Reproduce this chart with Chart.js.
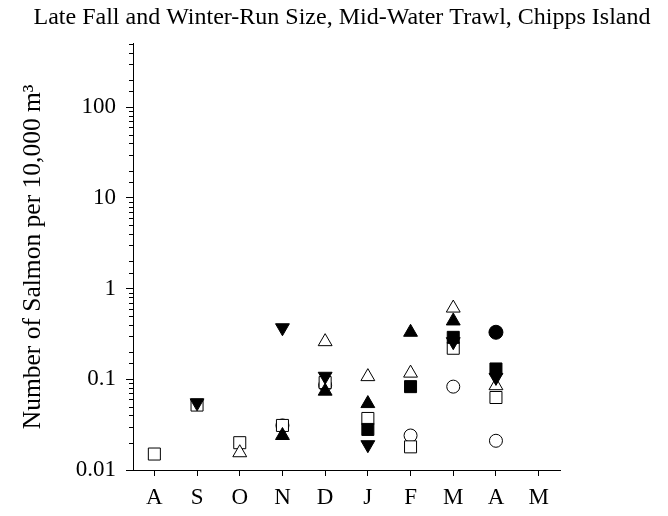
<!DOCTYPE html>
<html>
<head>
<meta charset="utf-8">
<script src="https://cdn.jsdelivr.net/npm/chart.js@4/dist/chart.umd.min.js"></script>
<style>
html,body{margin:0;padding:0;background:#fff;}
#wrap{width:668px;height:516px;}
</style>
</head>
<body>
<div id="wrap"><canvas id="c" width="668" height="516"></canvas></div>
<script>
const months = ['A','S','O','N','D','J','F','M','A','M'];
const openSquare    = [0.015, 0.052, 0.020, 0.031, 0.092, 0.037, 0.018, 0.22, 0.063, null];
const filledTriDown = [null, 0.055, null, 0.37, 0.108, 0.019, null, 0.26, 0.105, null];
const openTriUp     = [null, null, 0.0155, null, 0.26, 0.107, 0.117, 0.61, 0.085, null];
const filledTriUp   = [null, null, null, 0.024, 0.074, 0.054, 0.33, 0.44, null, null];
const filledSquare  = [null, null, null, null, null, 0.028, 0.083, 0.29, 0.13, null];
const openCircle    = [null, null, null, 0.031, 0.086, null, 0.024, 0.083, 0.021, null];
const filledCircle  = [null, null, null, null, null, null, null, null, 0.33, null];

const yTickValues = [0.01, 0.1, 1, 10, 100];
const yTickLabels = ['0.01', '0.1', '1', '10', '100'];

const SERIF = '"Liberation Serif", "Times New Roman", serif';

function isMajorVal(v) {
  return yTickValues.some(t => Math.abs(v - t) / t < 1e-6);
}

function ds(data, style, fill, radius, rotation) {
  return {
    data: data,
    showLine: false,
    pointStyle: style,
    pointRadius: radius,
    pointHoverRadius: radius,
    pointRotation: rotation || 0,
    pointBackgroundColor: fill,
    pointBorderColor: '#000',
    pointBorderWidth: 1,
    borderColor: '#000',
    backgroundColor: fill
  };
}

const minorTicks = {
  id: 'minorTicks',
  afterDatasetsDraw(chart) {
    const s = chart.scales.y;
    const ctx = chart.ctx;
    ctx.save();
    ctx.strokeStyle = '#000';
    ctx.lineWidth = 1;
    s.ticks.forEach((t, i) => {
      if (isMajorVal(t.value)) return;
      const y = Math.round(s.getPixelForTick(i)) + 0.5;
      ctx.beginPath();
      ctx.moveTo(s.right - 4, y);
      ctx.lineTo(s.right, y);
      ctx.stroke();
    });
    ctx.restore();
  }
};

new Chart(document.getElementById('c'), {
  type: 'line',
  data: {
    labels: months,
    datasets: [
      ds(filledCircle, 'circle', '#000', 7),
      ds(filledTriDown, 'triangle', '#000', 8, 180),
      ds(filledSquare, 'rect', '#000', 8.5),
      ds(filledTriUp, 'triangle', '#000', 8),
      ds(openTriUp, 'triangle', '#fff', 8),
      ds(openSquare, 'rect', '#fff', 8.5),
      ds(openCircle, 'circle', '#fff', 6.5)
    ]
  },
  options: {
    responsive: false,
    animation: false,
    devicePixelRatio: 1,
    layout: { padding: { left: 16, right: 0, top: 0, bottom: 0 } },
    plugins: {
      legend: { display: false },
      tooltip: { enabled: false },
      title: {
        display: true,
        text: 'Late Fall and Winter-Run Size, Mid-Water Trawl, Chipps Island',
        color: '#000',
        font: { family: SERIF, size: 24, weight: 'normal' },
        padding: { top: 3, bottom: 12 }
      }
    },
    scales: {
      x: {
        type: 'category',
        offset: true,
        grid: { display: true, drawOnChartArea: false, offset: false, tickLength: 6, color: '#000', tickColor: '#000' },
        border: { display: true, color: '#000', width: 1 },
        ticks: { color: '#000', font: { family: SERIF, size: 23 }, padding: 8, autoSkip: false, maxRotation: 0 },
        afterFit(s) { s.height = 46; }
      },
      y: {
        type: 'logarithmic',
        min: 0.01,
        max: 500,
        grid: {
          display: true, drawOnChartArea: false, tickLength: 7,
          color: '#000',
          tickColor: ctx => (ctx.tick && isMajorVal(ctx.tick.value)) ? '#000' : 'rgba(0,0,0,0)'
        },
        border: { display: true, color: '#000', width: 1 },
        ticks: {
          color: '#000',
          font: { family: SERIF, size: 23 },
          padding: 10,
          autoSkip: false,
          callback: function (v) {
            const i = yTickValues.findIndex(t => Math.abs(v - t) / t < 1e-6);
            return i >= 0 ? yTickLabels[i] : '';
          }
        },
        title: {
          display: true,
          text: 'Number of Salmon per 10,000 m³',
          color: '#000',
          font: { family: SERIF, size: 25.5 },
          padding: { top: 2, bottom: 0 }
        },
        afterFit(s) { s.width = 117; }
      },
      yR: {
        type: 'linear',
        position: 'right',
        display: true,
        grid: { display: false },
        border: { display: false },
        ticks: { display: false },
        afterFit(s) { s.width = 108; }
      }
    }
  },
  plugins: [minorTicks]
});
</script>
</body>
</html>
